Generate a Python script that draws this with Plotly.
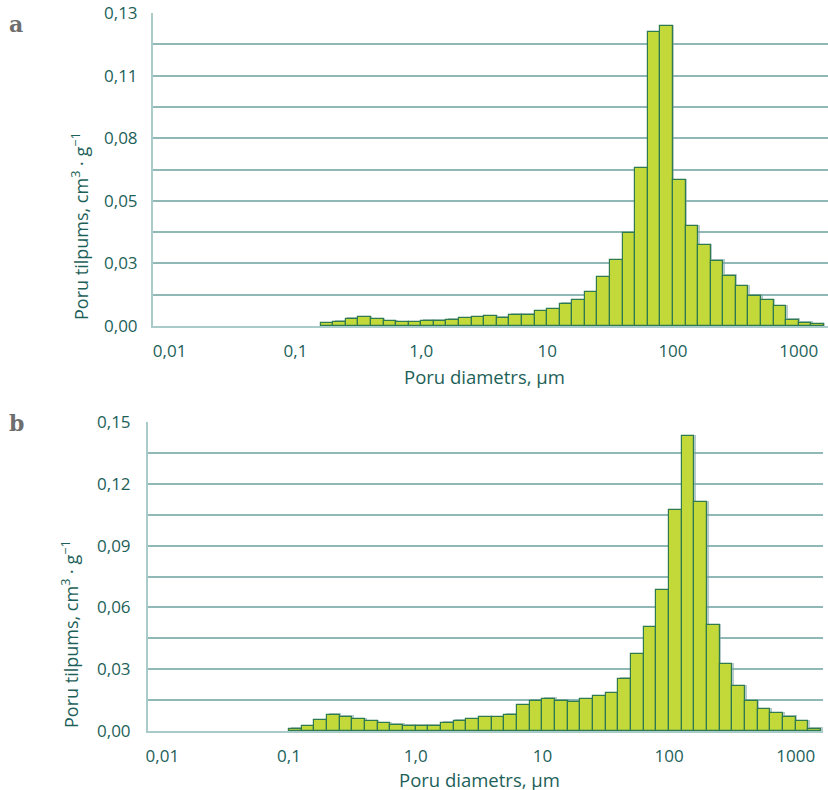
import math
import plotly.graph_objects as go

# ---------------- data ----------------
# Bins are 0.1 decade wide in pore diameter (µm); first bin lower edge given as log10(d)
a_first_bin_log10 = -0.8
a_values = [0.0011, 0.0018, 0.0030, 0.0036, 0.0028, 0.0019, 0.0015, 0.0015, 0.0021, 0.0021,
            0.0025, 0.0032, 0.0036, 0.0040, 0.0035, 0.0046, 0.0046, 0.0061, 0.0069, 0.0093,
            0.0107, 0.0141, 0.0202, 0.0274, 0.0385, 0.0655, 0.1220, 0.1246, 0.0605, 0.0414,
            0.0335, 0.0271, 0.0209, 0.0166, 0.0125, 0.0107, 0.0082, 0.0025, 0.0013, 0.0007]

b_first_bin_log10 = -1.0
b_values = [0.0010, 0.0023, 0.0052, 0.0079, 0.0070, 0.0057, 0.0047, 0.0037, 0.0031, 0.0026,
            0.0026, 0.0026, 0.0039, 0.0049, 0.0058, 0.0066, 0.0066, 0.0079, 0.0125, 0.0147,
            0.0157, 0.0148, 0.0139, 0.0153, 0.0169, 0.0183, 0.0254, 0.0372, 0.0503, 0.0683,
            0.1071, 0.1430, 0.1110, 0.0513, 0.0324, 0.0217, 0.0144, 0.0105, 0.0087, 0.0068,
            0.0047, 0.0011]
bin_width_log10 = 0.1

x_tick_diam = [0.01, 0.1, 1, 10, 100, 1000]
x_tick_text = ["0,01", "0,1", "1,0", "10", "100", "1000"]

a_y_grid = [0.0, 0.013, 0.026, 0.039, 0.052, 0.065, 0.078, 0.091, 0.104, 0.117, 0.13]
a_y_text = ["0,00", "", "0,03", "", "0,05", "", "0,08", "", "0,11", "", "0,13"]
b_y_grid = [0.0, 0.015, 0.03, 0.045, 0.06, 0.075, 0.09, 0.105, 0.12, 0.135, 0.15]
b_y_text = ["0,00", "", "0,03", "", "0,06", "", "0,09", "", "0,12", "", "0,15"]

y_title = "Poru tilpums, cm<sup>3</sup> · g<sup>−1</sup>"
x_title = "Poru diametrs, µm"

# ---------------- style ----------------
W, H = 828, 790
FILL = "#c3d93a"
EDGE = "#2f7a4e"
SHADOW = "rgba(120,160,160,0.55)"
GRID = "#8fb8b7"
AXIS = "#a9cbca"
TXT = "#1d5f59"
FONT = "Open Sans"

A_DOM_X = [153 / W, 1.0]
A_DOM_Y = [1 - 326 / H, 1 - 13 / H]
A_RX = [-2.132, 3.232]
A_RY = [0, 0.13]
B_DOM_X = [148 / W, 823 / W]
B_DOM_Y = [1 - 731 / H, 1 - 422 / H]
B_RX = [-2.113, 3.215]
B_RY = [0, 0.15]


def centers(first, n):
    return [first + bin_width_log10 * (i + 0.5) for i in range(n)]


def shadow_shift(dom_x, rx, dom_y, ry, px=1.5):
    # convert a small pixel offset to data units of this subplot
    wpx = (dom_x[1] - dom_x[0]) * W
    hpx = (dom_y[1] - dom_y[0]) * H
    return px * (rx[1] - rx[0]) / wpx, px * (ry[1] - ry[0]) / hpx


tick_logs = [math.log10(v) for v in x_tick_diam]

fig = go.Figure()
for vals, first, xa, ya, dx_dom, rx, dy_dom, ry in [
    (a_values, a_first_bin_log10, "x", "y", A_DOM_X, A_RX, A_DOM_Y, A_RY),
    (b_values, b_first_bin_log10, "x2", "y2", B_DOM_X, B_RX, B_DOM_Y, B_RY),
]:
    cx = centers(first, len(vals))
    sx, sy = shadow_shift(dx_dom, rx, dy_dom, ry)
    fig.add_trace(go.Bar(x=[c + sx for c in cx], y=[v + sy for v in vals], width=bin_width_log10,
                         xaxis=xa, yaxis=ya, hoverinfo="skip",
                         marker=dict(color=SHADOW, line=dict(width=0))))
    fig.add_trace(go.Bar(x=cx, y=vals, width=bin_width_log10, xaxis=xa, yaxis=ya,
                         marker=dict(color=FILL, line=dict(color=EDGE, width=1.2))))


def xax(domain, rng, anchor, ticklen):
    return dict(domain=domain, range=rng, anchor=anchor, tickvals=tick_logs, ticktext=x_tick_text,
                showgrid=False, zeroline=False, showline=True, linecolor=AXIS, linewidth=2,
                ticks="outside", ticklen=ticklen, tickcolor="rgba(0,0,0,0)", automargin=False,
                tickfont=dict(family=FONT, size=17, color=TXT), fixedrange=True)


def yax(domain, rng, anchor, vals, text, ticklen):
    return dict(domain=domain, range=rng, anchor=anchor, tickvals=vals, ticktext=text,
                showgrid=True, gridcolor=GRID, gridwidth=2, zeroline=False,
                showline=True, linecolor=AXIS, linewidth=2, automargin=False,
                ticks="outside", ticklen=ticklen, tickcolor="rgba(0,0,0,0)",
                tickfont=dict(family=FONT, size=17, color=TXT), fixedrange=True)


fig.update_layout(
    width=W, height=H, margin=dict(l=0, r=0, t=0, b=0, autoexpand=False),
    paper_bgcolor="white", plot_bgcolor="white", showlegend=False, bargap=0, barmode="overlay",
    xaxis=xax(A_DOM_X, A_RX, "y", 9),
    yaxis=yax(A_DOM_Y, A_RY, "x", a_y_grid, a_y_text, 10),
    xaxis2=xax(B_DOM_X, B_RX, "y2", 9),
    yaxis2=yax(B_DOM_Y, B_RY, "x2", b_y_grid, b_y_text, 12),
)

ann = []
ann.append(dict(text=y_title, x=80 / W, y=1 - 226 / H, xref="paper", yref="paper", textangle=-90,
                xanchor="center", yanchor="middle", showarrow=False,
                font=dict(family=FONT, size=18, color=TXT)))
ann.append(dict(text=y_title, x=70 / W, y=1 - 634 / H, xref="paper", yref="paper", textangle=-90,
                xanchor="center", yanchor="middle", showarrow=False,
                font=dict(family=FONT, size=18, color=TXT)))
ann.append(dict(text=x_title, x=484 / W, y=1 - 376 / H, xref="paper", yref="paper",
                xanchor="center", yanchor="middle", showarrow=False,
                font=dict(family=FONT, size=18.5, color=TXT)))
ann.append(dict(text=x_title, x=479 / W, y=1 - 779 / H, xref="paper", yref="paper",
                xanchor="center", yanchor="middle", showarrow=False,
                font=dict(family=FONT, size=18.5, color=TXT)))
ann.append(dict(text="<b>a</b>", x=16 / W, y=1 - 24 / H, xref="paper", yref="paper",
                xanchor="center", yanchor="middle", showarrow=False,
                font=dict(family="DejaVu Serif", size=22, color="#6e6e6e")))
ann.append(dict(text="<b>b</b>", x=16 / W, y=1 - 423 / H, xref="paper", yref="paper",
                xanchor="center", yanchor="middle", showarrow=False,
                font=dict(family="DejaVu Serif", size=22, color="#6e6e6e")))
fig.update_layout(annotations=ann)

fig.write_html("out.html")
